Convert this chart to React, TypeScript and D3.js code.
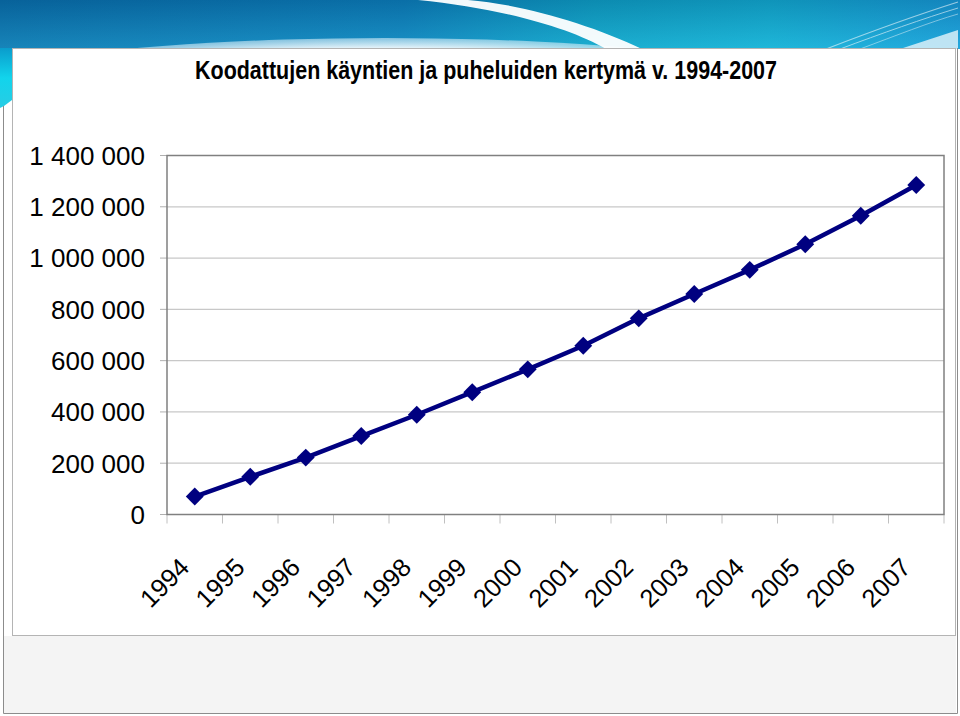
import React from "react";
import * as d3 from "d3";

const TITLE = "Koodattujen käyntien ja puheluiden kertymä v. 1994-2007";
const years = ["1994","1995","1996","1997","1998","1999","2000","2001","2002","2003","2004","2005","2006","2007"];
const values = [70000,147000,222000,306000,389000,477000,566000,658000,765000,860000,954000,1054000,1165000,1285000];
const yTicks = [0,200000,400000,600000,800000,1000000,1200000,1400000];

const W = 960, H = 716;
const plot = { left: 167, right: 944, top: 155.5, bottom: 514.5 };
const FONT = "'Liberation Sans', Arial, Helvetica, sans-serif";

const fmt = d3.formatLocale({ decimal: ",", thousands: " ", grouping: [3], currency: ["", ""] }).format(",");

export default function App() {
  const x = d3.scaleBand<string>().domain(years).range([plot.left, plot.right]).padding(0);
  const y = d3.scaleLinear().domain([0, 1400000]).range([plot.bottom, plot.top]);
  const cx = (yr: string) => (x(yr) as number) + x.bandwidth() / 2;
  const pts = years.map((yr, i) => [cx(yr), y(values[i])] as [number, number]);
  const line = d3.line()(pts) as string;
  const marker = d3.symbol(d3.symbolSquare, 160)() as string;
  const boundaries = [...years.map((yr) => x(yr) as number), plot.right];

  return (
    <svg width={W} height={H} viewBox={`0 0 ${W} ${H}`} style={{ position: "fixed", left: 0, top: 0, background: "#fff" }}>
      <defs>
        <linearGradient id="hdr" x1="0" y1="0" x2="1" y2="0">
          <stop offset="0" stopColor="#0a6fa8" />
          <stop offset="0.42" stopColor="#0d80b9" />
          <stop offset="0.62" stopColor="#10a6c6" />
          <stop offset="0.8" stopColor="#14b2d2" />
          <stop offset="1" stopColor="#1a9ed8" />
        </linearGradient>
        <linearGradient id="hdrV" x1="0" y1="0" x2="0" y2="1">
          <stop offset="0" stopColor="#003a70" stopOpacity="0.25" />
          <stop offset="1" stopColor="#40c8f0" stopOpacity="0.25" />
        </linearGradient>
        <linearGradient id="strip" x1="0" y1="0" x2="0" y2="1">
          <stop offset="0" stopColor="#0a9ccc" />
          <stop offset="0.5" stopColor="#12d4ec" />
          <stop offset="1" stopColor="#28cce4" />
        </linearGradient>
        <radialGradient id="arc" cx="0.5" cy="0.5" r="0.5">
          <stop offset="0.85" stopColor="#ffffff" stopOpacity="1" />
          <stop offset="1" stopColor="#cfeaf6" stopOpacity="0.6" />
        </radialGradient>
        <clipPath id="hdrClip">
          <rect x={0} y={0} width={W} height={49} />
        </clipPath>
      </defs>

      {/* header */}
      <g clipPath="url(#hdrClip)">
        <rect x={0} y={0} width={W} height={49} fill="url(#hdr)" />
        <rect x={0} y={0} width={W} height={49} fill="url(#hdrV)" />
        <ellipse cx={385} cy={120} rx={520} ry={82} fill="url(#arc)" />
        <path d="M418,0 C500,8 570,28 606,49 L642,49 C590,24 520,4 468,0 Z" fill="#ffffff" opacity={0.95} />
        <path d="M900,49 L958,30 L958,49 Z" fill="#e6f4fa" opacity={0.8} />
        <g stroke="#ffffff" fill="none" opacity={0.55}>
          <path d="M826,49 C870,32 920,14 958,2" strokeWidth={1.2} />
          <path d="M840,49 C880,34 925,18 958,8" strokeWidth={1} />
          <path d="M860,49 C895,36 930,22 958,14" strokeWidth={0.8} />
        </g>
      </g>

      {/* left strip */}
      <path d="M0,48 L12,48 L12,100 L4,106 L0,108 Z" fill="url(#strip)" />

      {/* bottom band and frame */}
      <rect x={4} y={636} width={952} height={77} fill="#f4f4f4" />
      <rect x={12.5} y={48.5} width={943} height={587} fill="#ffffff" stroke="#b4b4b4" strokeWidth={1} />
      <path d="M3.5,106 L3.5,713.5 L957.5,713.5 L957.5,48" fill="none" stroke="#8c8c8c" strokeWidth={1} />

      {/* title */}
      <text x={486} y={79} textAnchor="middle" fontFamily={FONT} fontWeight="bold" fontSize={26}
        textLength={582} lengthAdjust="spacingAndGlyphs" fill="#000">{TITLE}</text>

      {/* gridlines */}
      {yTicks.map((t) => (
        <line key={"g" + t} x1={plot.left} x2={plot.right} y1={y(t)} y2={y(t)} stroke="#c8c8c8" strokeWidth={1.2} />
      ))}
      {/* y ticks */}
      {yTicks.map((t) => (
        <line key={"yt" + t} x1={plot.left - 7} x2={plot.left} y1={y(t)} y2={y(t)} stroke="#b0b0b0" strokeWidth={1} />
      ))}
      {/* x ticks */}
      {boundaries.map((b, i) => (
        <line key={"xt" + i} x1={b} x2={b} y1={plot.bottom} y2={plot.bottom + 9} stroke="#c0c0c0" strokeWidth={1} />
      ))}
      {/* plot border */}
      <rect x={plot.left} y={plot.top} width={plot.right - plot.left} height={plot.bottom - plot.top}
        fill="none" stroke="#808080" strokeWidth={1.5} />

      {/* y labels */}
      {yTicks.map((t) => (
        <text key={"yl" + t} x={145} y={y(t)} dy="0.36em" textAnchor="end" fontFamily={FONT} fontSize={26} fill="#000">
          {fmt(t)}
        </text>
      ))}

      {/* x labels */}
      {years.map((yr) => (
        <text key={"xl" + yr} transform={`translate(${cx(yr) - 4},${569}) rotate(-45)`} textAnchor="end"
          fontFamily={FONT} fontSize={25.5} fill="#000">{yr}</text>
      ))}

      {/* series */}
      <path d={line} fill="none" stroke="#000080" strokeWidth={4.5} strokeLinejoin="round" />
      {pts.map((p, i) => (
        <path key={"m" + i} d={marker} transform={`translate(${p[0]},${p[1]}) rotate(45)`} fill="#000080" />
      ))}
    </svg>
  );
}
